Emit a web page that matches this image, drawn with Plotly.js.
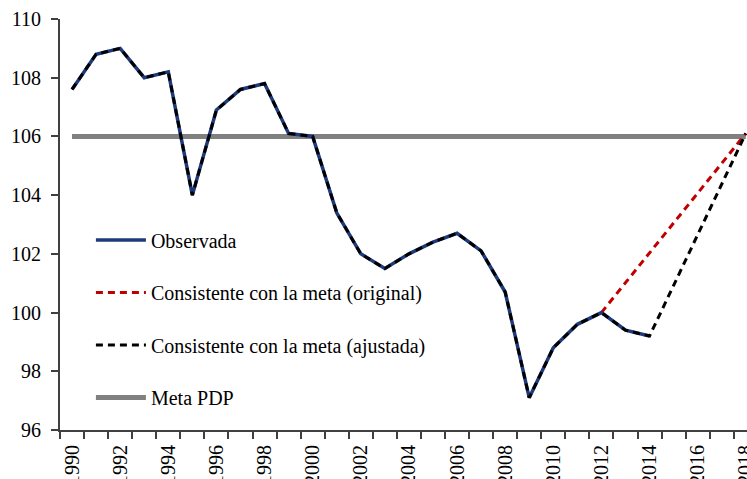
<!DOCTYPE html>
<html>
<head>
<meta charset="utf-8">
<script src="https://cdn.plot.ly/plotly-3.0.1.min.js"></script>
<style>html,body{margin:0;padding:0;background:#fff;overflow:hidden}#chart{width:747px;height:479px}</style>
</head>
<body>
<div id="chart"></div>
<script>
const years = [1990,1991,1992,1993,1994,1995,1996,1997,1998,1999,2000,2001,2002,2003,2004,2005,2006,2007,2008,2009,2010,2011,2012,2013,2014];
const observada = [107.6,108.8,109.0,108.0,108.2,104.0,106.9,107.6,107.8,106.1,106.0,103.4,102.0,101.5,102.0,102.4,102.7,102.1,100.7,97.1,98.8,99.6,100.0,99.4,99.2];
const originalYears = [2012,2018];
const originalVals = [100.0,106.1];
const ajustadaYears = years.concat([2018]);
const ajustadaVals = observada.concat([106.1]);
const metaYears = [1990,2018];
const metaVals = [106,106];
const xTickVals = [1990,1992,1994,1996,1998,2000,2002,2004,2006,2008,2010,2012,2014,2016,2018];
const yTickVals = [96,98,100,102,104,106,108,110];

const font = {family:'Liberation Serif, Times New Roman, serif', size:20, color:'#000'};
const traces = [
  {x:metaYears, y:metaVals, mode:'lines', name:'Meta PDP', line:{color:'#808080', width:5}, legendgroup:'d', legendrank:4},
  {x:originalYears, y:originalVals, mode:'lines', name:'Consistente con la meta (original)', line:{color:'#C00000', width:3, dash:'7px,5px'}, legendgroup:'b', legendrank:2},
  {x:years, y:observada, mode:'lines', name:'Observada', line:{color:'#1F3A7A', width:3.5}, legendgroup:'a', legendrank:1},
  {x:ajustadaYears, y:ajustadaVals, mode:'lines', name:'Consistente con la meta (ajustada)', line:{color:'#000000', width:3, dash:'7px,5px'}, legendgroup:'c', legendrank:3}
];
const layout = {
  width:747, height:479,
  margin:{l:60, r:0, t:19, b:49},
  paper_bgcolor:'#fff', plot_bgcolor:'#fff',
  font:font,
  showlegend:true,
  legend:{x:0.045, y:0.51, xanchor:'left', yanchor:'top', bgcolor:'rgba(0,0,0,0)', font:font, traceorder:'grouped', tracegroupgap:23.5, itemwidth:50},
  xaxis:{range:[1989.5,2018.05], tickmode:'array', tickvals:xTickVals, ticktext:xTickVals.map(String), tickangle:-90, ticks:'', ticklabeloverflow:'allow', ticklabelstandoff:5, showgrid:false, zeroline:false, showline:true, linecolor:'#404040', linewidth:2, tickfont:font,
    minor:{tickmode:'linear', tick0:1989.5, dtick:1, ticks:'outside', ticklen:7, tickcolor:'#404040', tickwidth:2, showgrid:false}},
  yaxis:{range:[96,110], tickmode:'array', tickvals:yTickVals, ticks:'outside', ticklen:7, ticklabelstandoff:6, tickcolor:'#404040', tickwidth:2, showgrid:false, zeroline:false, showline:true, linecolor:'#404040', linewidth:2, tickfont:font},
};
Plotly.newPlot('chart', traces, layout, {staticPlot:true, displayModeBar:false});
</script>
</body>
</html>
